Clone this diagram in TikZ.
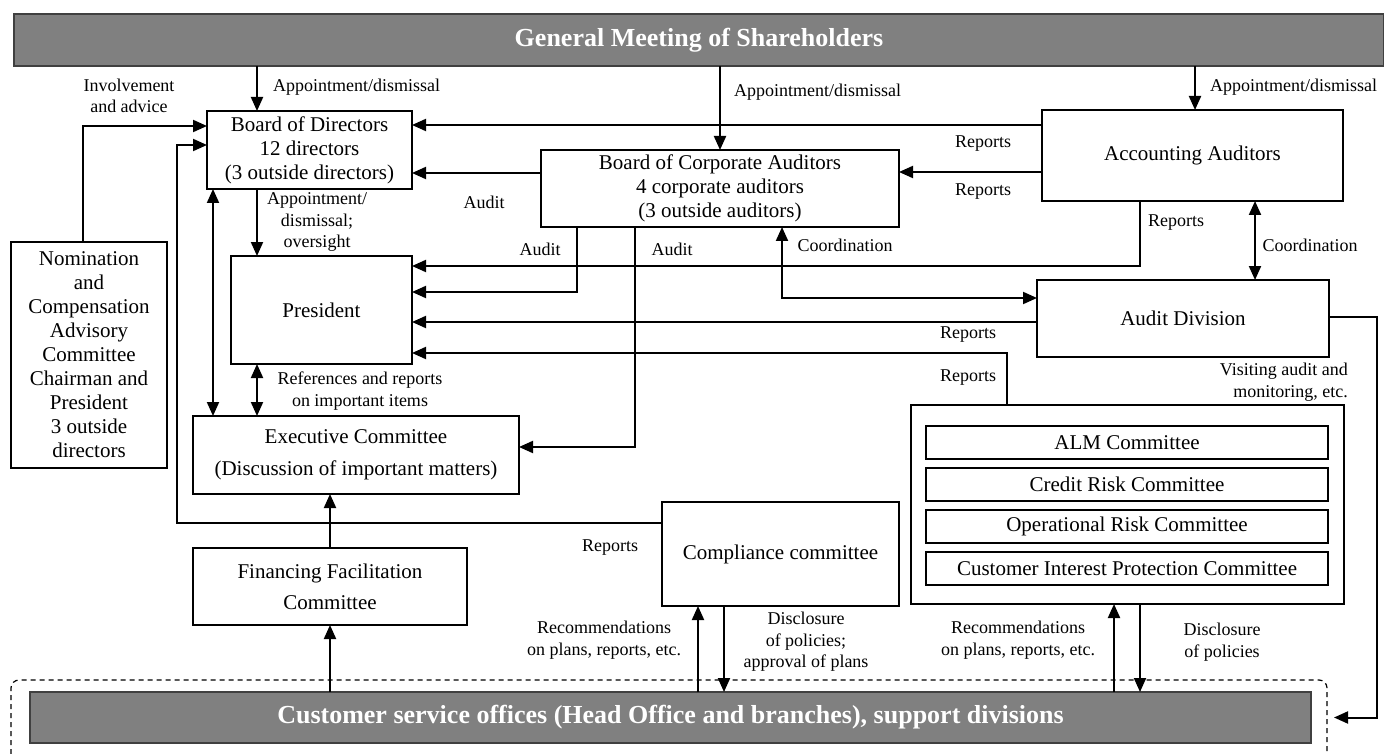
\documentclass[tikz,border=0pt]{standalone}
\usepackage{fontspec}
\setmainfont{Liberation Serif}
\usetikzlibrary{arrows.meta}
\begin{document}
\begin{tikzpicture}[x=1pt,y=-1pt,
    >={Triangle[length=14pt,width=12pt]},
    box/.style={draw,line width=1.3pt,inner sep=0pt,outer sep=0pt,align=center,
      font=\fontsize{21}{24}\selectfont},
    subbox/.style={box,minimum width=402pt,minimum height=33pt},
    graybar/.style={draw=black!75,line width=1.5pt,fill=black!50,text=white,
      inner sep=0pt,outer sep=0pt,font=\fontsize{26}{30}\selectfont\bfseries},
    lbl/.style={inner sep=0pt,align=center,font=\fontsize{18}{21.5}\selectfont},
    link/.style={line width=2pt}]
      \useasboundingbox (0,0) rectangle (1384,754);
      \node[graybar,minimum width=1370pt,minimum height=52pt] (gms) at (699,40) {General Meeting of Shareholders};
      \node[box,minimum width=205pt,minimum height=78pt] (bod) at (309.5,150) {Board of Directors\\12 directors\\(3 outside directors)};
      \node[box,minimum width=358pt,minimum height=77pt] (bca) at (720,188.5) {Board of Corporate Auditors\\4 corporate auditors\\(3 outside auditors)};
      \node[box,minimum width=301pt,minimum height=91pt] (aa) at (1192.5,155.5) {Accounting Auditors};
      \node[box,minimum width=156pt,minimum height=226pt] (nom) at (89,355) {Nomination\\and\\Compensation\\Advisory\\Committee\\Chairman and\\President\\3 outside\\directors};
      \node[box,minimum width=181pt,minimum height=108pt] (pres) at (321.5,310) {President};
      \node[box,minimum width=326pt,minimum height=78pt] (exec) at (356,455) {Executive Committee\\[8pt](Discussion of important matters)};
      \node[box,minimum width=292pt,minimum height=77pt] (ad) at (1183,318.5) {Audit Division};
      \node[box,minimum width=433pt,minimum height=199pt] (risk) at (1127.5,504.5) {};
      \node[subbox] (alm) at (1127,442.5) {ALM Committee};
      \node[subbox] (crc) at (1127,484.5) {Credit Risk Committee};
      \node[subbox] (orc) at (1127,526.5) {Operational Risk Committee};
      \node[subbox] (cipc) at (1127,568.5) {Customer Interest Protection Committee};
      \node[box,minimum width=237pt,minimum height=104pt] (comp) at (780.5,554) {Compliance committee};
      \node[box,minimum width=274pt,minimum height=77pt] (ffc) at (330,586.5) {Financing Facilitation\\[7pt]Committee};
      \node[graybar,minimum width=1281pt,minimum height=51pt] (cso) at (670.5,717.5) {Customer service offices (Head Office and branches), support divisions};
      \draw[line width=1.2pt,dash pattern=on 5pt off 4pt,rounded corners=8pt] (11,790) -- (11,680) -- (1327,680) -- (1327,790);
      \draw[link,->] ([xshift=243pt]gms.south west) -- ([xshift=50pt]bod.north west);
      \draw[link,->] ([xshift=706pt]gms.south west) -- ([xshift=179pt]bca.north west);
      \draw[link,->] ([xshift=1181pt]gms.south west) -- ([xshift=153pt]aa.north west);
      \draw[link,->] ([xshift=72pt]nom.north west) |- ([yshift=24pt]bod.west);
      \draw[link,->] ([yshift=31pt]comp.west) -- ++(-485,0) |- ([yshift=5pt]bod.west);
      \draw[link,->] ([yshift=30.5pt]aa.west) -- ([yshift=25pt]bod.east);
      \draw[link,->] ([yshift=-16.5pt]aa.west) -- ([yshift=16.5pt]bca.east);
      \draw[link,->] ([yshift=15.5pt]bca.west) -- ([yshift=-23pt]bod.east);
      \draw[link,->] ([xshift=50pt]bod.south west) -- ([xshift=26pt]pres.north west);
      \draw[link,<->] ([xshift=6pt]bod.south west) -- ([xshift=20pt]exec.north west);
      \draw[link,<->] ([xshift=26pt]pres.south west) -- ([xshift=64pt]exec.north west);
      \draw[link,->] ([xshift=36pt]bca.south west) |- ([yshift=18pt]pres.east);
      \draw[link,->] ([xshift=94pt]bca.south west) |- ([yshift=8pt]exec.east);
      \draw[link,->] ([xshift=98pt]aa.south west) |- ([yshift=44pt]pres.east);
      \draw[link,<->] ([xshift=213pt]aa.south west) -- ([xshift=218pt]ad.north west);
      \draw[link,<->] ([xshift=241pt]bca.south west) |- ([yshift=20.5pt]ad.west);
      \draw[link,->] ([yshift=-3.5pt]ad.west) -- ([yshift=-12pt]pres.east);
      \draw[link,->] ([xshift=96pt]risk.north west) |- ([yshift=-43pt]pres.east);
      \draw[link,->] ([yshift=1.5pt]ad.east) -- ++(48,0) |- ([xshift=23pt]cso.east);
      \draw[link,->] (ffc.north) -- ([xshift=137pt]exec.south west);
      \draw[link,->] ([xshift=300pt]cso.north west) -- (ffc.south);
      \draw[link,->] ([xshift=668pt]cso.north west) -- ([xshift=36pt]comp.south west);
      \draw[link,->] ([xshift=62pt]comp.south west) -- ([xshift=694pt]cso.north west);
      \draw[link,->] ([xshift=1084pt]cso.north west) -- ([xshift=203pt]risk.south west);
      \draw[link,->] ([xshift=229pt]risk.south west) -- ([xshift=1110pt]cso.north west);
      \node[lbl,anchor=west] (tApp1) at (273,87) {Appointment/dismissal};
      \node[lbl,anchor=west] (tApp2) at (734,92) {Appointment/dismissal};
      \node[lbl,anchor=west] (tApp3) at (1210,87) {Appointment/dismissal};
      \node[lbl] (tInv) at (129,96) {Involvement\\and advice};
      \node[lbl] (tRepC) at (610,548) {Reports};
      \node[lbl] (tRepA1) at (983,144) {Reports};
      \node[lbl] (tRepA2) at (983,192) {Reports};
      \node[lbl] (tAud1) at (484,202) {Audit};
      \node[lbl] (tAppP) at (317,222) {Appointment/\\dismissal;\\oversight};
      \node[lbl] (tRef) at (360,391) {References and reports\\on important items};
      \node[lbl] (tAud2) at (540,249) {Audit};
      \node[lbl] (tAud3) at (672,249) {Audit};
      \node[lbl] (tRepA3) at (1176,223) {Reports};
      \node[lbl] (tCoo1) at (1310,245) {Coordination};
      \node[lbl] (tCoo2) at (845,245) {Coordination};
      \node[lbl] (tRepD) at (968,335) {Reports};
      \node[lbl] (tRepR) at (968,378) {Reports};
      \node[lbl,align=right,anchor=east] (tVis) at (1348,382) {Visiting audit and\\monitoring, etc.};
      \node[lbl] (tRec1) at (604,640) {Recommendations\\on plans, reports, etc.};
      \node[lbl] (tDis1) at (806,642) {Disclosure\\of policies;\\approval of plans};
      \node[lbl] (tRec2) at (1018,640) {Recommendations\\on plans, reports, etc.};
      \node[lbl] (tDis2) at (1222,642) {Disclosure\\of policies};
    \end{tikzpicture}
\end{document}
